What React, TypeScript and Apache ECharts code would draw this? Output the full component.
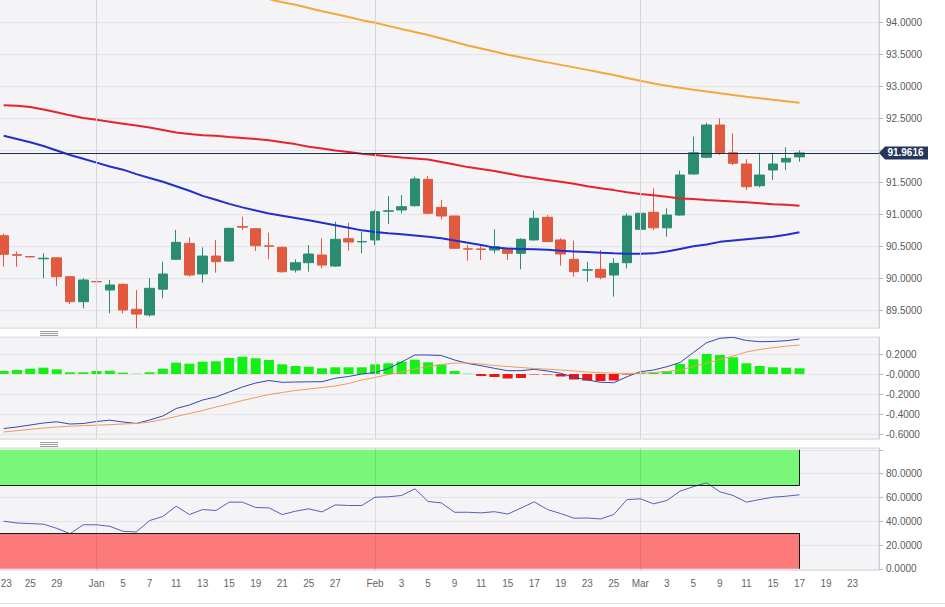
import React, { useEffect, useRef } from 'react';
import * as echarts from 'echarts';

// ---------- data ----------
const dates = [
  '2020-12-23','2020-12-24','2020-12-25','2020-12-28','2020-12-29','2020-12-30','2020-12-31',
  '2021-01-01','2021-01-04','2021-01-05','2021-01-06','2021-01-07','2021-01-08','2021-01-11','2021-01-12','2021-01-13','2021-01-14','2021-01-15','2021-01-18','2021-01-19','2021-01-20','2021-01-21','2021-01-22','2021-01-25','2021-01-26','2021-01-27','2021-01-28','2021-01-29',
  '2021-02-01','2021-02-02','2021-02-03','2021-02-04','2021-02-05','2021-02-08','2021-02-09','2021-02-10','2021-02-11','2021-02-12','2021-02-15','2021-02-16','2021-02-17','2021-02-18','2021-02-19','2021-02-22','2021-02-23','2021-02-24','2021-02-25','2021-02-26',
  '2021-03-01','2021-03-02','2021-03-03','2021-03-04','2021-03-05','2021-03-08','2021-03-09','2021-03-10','2021-03-11','2021-03-12','2021-03-15','2021-03-16','2021-03-17',
  '2021-03-18','2021-03-19','2021-03-22','2021-03-23'
];

const tickDates = [
  '2020-12-23','2020-12-25','2020-12-29','2021-01-01','2021-01-05','2021-01-07','2021-01-11','2021-01-13','2021-01-15','2021-01-19','2021-01-21','2021-01-25','2021-01-27',
  '2021-02-01','2021-02-03','2021-02-05','2021-02-09','2021-02-11','2021-02-15','2021-02-17','2021-02-19','2021-02-23','2021-02-25',
  '2021-03-01','2021-03-03','2021-03-05','2021-03-09','2021-03-11','2021-03-15','2021-03-17','2021-03-19','2021-03-23'
];
const monthStartDates = ['2021-01-01', '2021-02-01', '2021-03-01'];
const monthNames = ['Jan','Feb','Mar','Apr','May','Jun','Jul','Aug','Sep','Oct','Nov','Dec'];

const open = [90.666,90.37,90.34,90.305,90.32,90.025,89.634,89.95,89.817,89.906,89.515,89.426,89.83,90.297,90.547,90.067,90.348,90.27,90.81,90.776,90.508,90.485,90.13,90.244,90.364,90.192,90.62,90.57,90.6,91.05,91.069,91.136,91.549,91.11,90.975,90.461,90.46,90.443,90.454,90.391,90.6,90.955,90.6,90.297,90.128,90.14,90.051,90.244,90.767,91.033,90.79,90.99,91.632,91.894,92.399,91.965,91.788,91.449,91.695,91.82,91.9];
const close = [90.375,90.36,90.335,90.315,90.025,89.634,89.973,89.945,89.895,89.504,89.44,89.843,90.067,90.563,90.051,90.348,90.26,90.782,90.8,90.51,90.502,90.103,90.244,90.38,90.207,90.61,90.568,90.576,91.042,91.056,91.12,91.554,91.017,90.975,90.469,90.457,90.45,90.495,90.391,90.61,90.939,90.573,90.38,90.103,90.132,90.015,90.234,90.975,91.017,90.79,90.99,91.616,91.965,92.399,91.965,91.8,91.433,91.616,91.788,91.877,91.9616];
const low = [90.181,90.18,90.33,90.0,89.88,89.598,89.53,89.94,89.452,89.45,89.217,89.4,89.687,90.29,90.025,89.93,90.088,90.26,90.756,90.427,90.297,90.09,90.09,90.103,90.155,90.18,90.432,90.391,90.52,90.85,91.017,91.12,91.0,90.923,90.46,90.275,90.286,90.391,90.286,90.14,90.59,90.565,90.197,90.025,89.947,89.984,89.712,90.155,90.76,90.756,90.65,90.98,91.62,91.877,91.93,91.773,91.382,91.424,91.538,91.695,91.825];
const high = [90.7,90.42,90.345,90.39,90.33,90.03,90.0,89.955,89.973,89.92,89.817,90.0,90.26,90.756,90.641,90.485,90.6,90.79,90.964,90.78,90.714,90.49,90.297,90.52,90.626,90.886,90.87,90.729,91.069,91.288,91.303,91.59,91.6,91.225,90.98,90.52,90.52,90.766,90.48,90.626,91.058,90.99,90.626,90.59,90.26,90.443,90.313,91.017,91.163,91.408,91.095,91.684,92.216,92.435,92.504,92.269,91.862,91.965,91.965,92.05,92.0];

const ma55 = [92.23,92.18,92.13,92.07,92.0,91.93,91.87,91.81,91.75,91.7,91.63,91.57,91.51,91.44,91.37,91.29,91.23,91.165,91.11,91.06,91.015,90.98,90.945,90.91,90.87,90.83,90.79,90.75,90.725,90.705,90.69,90.67,90.65,90.625,90.59,90.555,90.52,90.48,90.465,90.46,90.455,90.445,90.43,90.42,90.41,90.4,90.39,90.385,90.385,90.39,90.42,90.46,90.5,90.53,90.57,90.59,90.61,90.63,90.65,90.68,90.72];
const ma100 = [92.71,92.7,92.68,92.64,92.6,92.55,92.51,92.48,92.45,92.42,92.39,92.36,92.32,92.28,92.26,92.24,92.23,92.21,92.195,92.18,92.16,92.13,92.1,92.06,92.03,92.0,91.975,91.95,91.93,91.91,91.89,91.875,91.86,91.82,91.78,91.74,91.71,91.68,91.64,91.6,91.57,91.54,91.51,91.48,91.44,91.41,91.38,91.345,91.32,91.3,91.275,91.25,91.24,91.225,91.214,91.2,91.19,91.175,91.16,91.15,91.135];
const ma200 = [null,null,null,null,null,null,null,null,null,null,null,null,null,null,null,null,null,null,null,94.42,94.37,94.32,94.28,94.23,94.18,94.136,94.09,94.04,94.0,93.95,93.9,93.855,93.807,93.753,93.698,93.643,93.596,93.549,93.5,93.458,93.418,93.379,93.34,93.301,93.262,93.222,93.18,93.134,93.09,93.05,93.015,92.983,92.952,92.923,92.895,92.868,92.842,92.817,92.793,92.77,92.748];

const macdLine = [-0.545,-0.53,-0.51,-0.49,-0.478,-0.5,-0.495,-0.475,-0.462,-0.48,-0.495,-0.46,-0.42,-0.345,-0.31,-0.26,-0.23,-0.18,-0.13,-0.09,-0.065,-0.083,-0.08,-0.078,-0.077,-0.042,-0.025,0.0,0.015,0.055,0.12,0.19,0.19,0.185,0.14,0.105,0.083,0.057,0.033,0.033,0.047,0.03,0.007,-0.033,-0.06,-0.083,-0.087,-0.027,0.023,0.04,0.073,0.115,0.215,0.313,0.357,0.367,0.335,0.323,0.325,0.333,0.35];
const signalLine = [-0.58,-0.567,-0.553,-0.54,-0.53,-0.522,-0.517,-0.512,-0.507,-0.5,-0.495,-0.48,-0.455,-0.425,-0.395,-0.365,-0.33,-0.3,-0.265,-0.235,-0.205,-0.185,-0.165,-0.15,-0.135,-0.12,-0.095,-0.06,-0.035,-0.005,0.02,0.05,0.075,0.095,0.11,0.11,0.1,0.085,0.075,0.065,0.055,0.048,0.04,0.03,0.02,0.013,0.008,0.006,0.008,0.015,0.025,0.04,0.075,0.11,0.145,0.18,0.22,0.245,0.263,0.278,0.29];
const macdHist = [0.03,0.04,0.053,0.063,0.047,0.017,0.017,0.03,0.033,0.013,0.003,0.017,0.053,0.113,0.103,0.123,0.127,0.16,0.173,0.157,0.14,0.097,0.08,0.073,0.057,0.067,0.067,0.067,0.097,0.107,0.123,0.143,0.117,0.093,0.03,0.003,-0.02,-0.03,-0.045,-0.04,-0.005,-0.005,-0.025,-0.055,-0.065,-0.07,-0.065,-0.005,0.013,0.015,0.03,0.1,0.147,0.2,0.19,0.167,0.107,0.08,0.067,0.063,0.057];

const rsi = [40,38.5,38,37.5,34,29.5,37,37,35.7,31.5,31,40.5,44,52.6,45.6,49.8,49,56,56,51.5,51.2,45.6,48.4,50.4,47.8,53.7,53.2,53.2,60.2,60.5,61.6,67.2,56.5,55.4,47.5,47.5,47,48,46,51,56.3,49.8,46.4,42.5,42.7,41.9,45.6,58.2,58.8,54.6,57.4,65.3,69,72.3,64.7,61.6,56,58.2,60.2,61,62.2];
const rsiOverbought = [70, 100];
const rsiOversold = [0, 30];

const lastPrice = 91.9616;

// ---------- layout constants ----------
const X_MIN = -0.354;
const X_MAX = 65.996;
const FONT = 'Arial, "Liberation Sans", Helvetica, sans-serif';

const GRID_BG = '#f4f4f6';
const GRID_BORDER = '#dcdde3';
const SPLIT = '#e3e3e8';
const AXIS_LINE = '#c9cfdc';

export default function App() {
  const ref = useRef<HTMLDivElement>(null);

  useEffect(() => {
    if (!ref.current) return;
    const chart = echarts.init(ref.current, null, { renderer: 'svg' });

    const lastIdx = close.length - 1;
    const tickIdx = tickDates.map((d) => dates.indexOf(d));
    const tickText: Record<number, string> = {};
    tickDates.forEach((d, k) => {
      const [, m, day] = d.split('-');
      tickText[tickIdx[k]] = day === '01' ? monthNames[parseInt(m, 10) - 1] : String(parseInt(day, 10));
    });
    const monthIdx = monthStartDates.map((d) => dates.indexOf(d));

    const candleData = open.map((o, i) => [i, o, close[i], low[i], high[i]]);
    const toXY = (arr: (number | null)[]) =>
      arr.map((v, i) => (v == null ? null : [i, v])).filter((p) => p != null);

    const monthMarkLine = () => ({
      silent: true,
      symbol: ['none', 'none'],
      label: { show: false },
      lineStyle: { color: '#d4d4da', width: 1, type: 'solid' },
      emphasis: { disabled: true },
      data: monthIdx.map((i) => ({ xAxis: i })),
    });

    const yAxisBase = (gridIndex: number) => ({
      type: 'value',
      gridIndex,
      position: 'right',
      scale: true,
      axisLine: { show: true, onZero: false, lineStyle: { color: AXIS_LINE } },
      axisTick: { show: true, length: 4, lineStyle: { color: '#b5b5bb' } },
      splitLine: { show: true, lineStyle: { color: SPLIT, width: 1 } },
      axisLabel: {
        show: true,
        color: '#5a5a5a',
        fontSize: 10,
        fontFamily: FONT,
        margin: 7,
        showMinLabel: false,
        showMaxLabel: false,
      },
    });

    const xAxisBase = (gridIndex: number) => ({
      type: 'value',
      gridIndex,
      min: X_MIN,
      max: X_MAX,
      axisLine: { show: false, onZero: false },
      axisTick: { show: false },
      splitLine: { show: false },
      axisLabel: { show: false },
    });

    const gridBase = {
      left: -1,
      right: 66,
      show: true,
      containLabel: false,
      outerBoundsMode: 'none',
      backgroundColor: GRID_BG,
      borderColor: GRID_BORDER,
      borderWidth: 1,
    };

    const option: any = {
      animation: false,
      textStyle: { fontFamily: FONT },
      grid: [
        { ...gridBase, top: -1, height: 329 },
        { ...gridBase, top: 337, height: 102 },
        { ...gridBase, top: 448, height: 122 },
      ],
      xAxis: [
        xAxisBase(0),
        xAxisBase(1),
        {
          ...xAxisBase(2),
          axisLabel: {
            show: true,
            customValues: tickIdx,
            formatter: (v: number) => {
              const i = Math.round(v);
              const t = tickText[i] ?? '';
              return i === tickIdx[0] ? `{edge|${t}}` : t;
            },
            rich: {
              edge: { padding: [0, 0, 0, 5], fontSize: 10, color: '#666', fontFamily: FONT },
            },
            color: '#666',
            fontSize: 10,
            fontFamily: FONT,
            margin: 8,
          },
        },
      ],
      yAxis: [
        {
          ...yAxisBase(0),
          min: 89.222,
          max: 94.371,
          splitNumber: 10,
          minInterval: 0.5,
          maxInterval: 0.5,
          axisLabel: {
            ...yAxisBase(0).axisLabel,
            formatter: (v: number) => (Math.abs(v - 92) < 1e-6 ? '' : v.toFixed(4)),
          },
        },
        {
          ...yAxisBase(1),
          min: -0.65,
          max: 0.37,
          splitNumber: 5,
          minInterval: 0.2,
          maxInterval: 0.2,
          axisLabel: {
            ...yAxisBase(1).axisLabel,
            formatter: (v: number) => (Math.abs(v) < 1e-9 ? '-0.0000' : v.toFixed(4)),
          },
        },
        {
          ...yAxisBase(2),
          min: -1,
          max: 101.5,
          splitNumber: 5,
          minInterval: 20,
          maxInterval: 20,
          axisLabel: {
            ...yAxisBase(2).axisLabel,
            formatter: (v: number) => (v > 99 || v < -0.5 ? '' : v.toFixed(4)),
          },
        },
      ],
      series: [
        {
          type: 'candlestick',
          xAxisIndex: 0,
          yAxisIndex: 0,
          data: candleData,
          barWidth: 10,
          itemStyle: {
            color: '#2a8c70',
            color0: '#e15a40',
            borderColor: '#2a8c70',
            borderColor0: '#e15a40',
            borderWidth: 1,
          },
          markLine: monthMarkLine(),
          z: 2,
        },
        {
          type: 'line',
          xAxisIndex: 0,
          yAxisIndex: 0,
          data: toXY(ma200),
          symbol: 'none',
          lineStyle: { color: '#f6a63a', width: 2 },
          z: 3,
        },
        {
          type: 'line',
          xAxisIndex: 0,
          yAxisIndex: 0,
          data: toXY(ma100),
          symbol: 'none',
          lineStyle: { color: '#e8222b', width: 2 },
          z: 3,
        },
        {
          type: 'line',
          xAxisIndex: 0,
          yAxisIndex: 0,
          data: toXY(ma55),
          symbol: 'none',
          lineStyle: { color: '#2030cc', width: 2 },
          z: 3,
        },
        {
          type: 'line',
          xAxisIndex: 0,
          yAxisIndex: 0,
          data: [[lastIdx, lastPrice]],
          symbol: 'none',
          lineStyle: { width: 0 },
          z: 4,
          markLine: {
            silent: true,
            symbol: ['none', 'none'],
            label: { show: false },
            lineStyle: { color: '#1b2e52', width: 1, type: 'solid' },
            emphasis: { disabled: true },
            data: [{ yAxis: lastPrice }],
          },
          markPoint: {
            silent: true,
            symbol: 'path://M0,6L6,0L49,0L49,12L6,12Z',
            symbolSize: [49, 13],
            symbolKeepAspect: false,
            symbolOffset: [24.5, 0],
            itemStyle: { color: '#24375a' },
            label: {
              show: true,
              position: 'inside',
              offset: [2, 0],
              color: '#ffffff',
              fontWeight: 'bold',
              fontSize: 10,
              fontFamily: FONT,
              formatter: lastPrice.toFixed(4),
            },
            data: [{ coord: [X_MAX - 0.001, lastPrice] }],
          },
        },
        {
          type: 'bar',
          xAxisIndex: 1,
          yAxisIndex: 1,
          data: macdHist.map((v, i) => [i, v]),
          barWidth: 10,
          itemStyle: {
            color: (p: any) => (p.value[1] >= 0 ? '#14f014' : '#f01414'),
          },
          markLine: monthMarkLine(),
          z: 2,
        },
        {
          type: 'line',
          xAxisIndex: 1,
          yAxisIndex: 1,
          data: macdLine.map((v, i) => [i, v]),
          symbol: 'none',
          lineStyle: { color: '#3446b2', width: 1 },
          z: 3,
        },
        {
          type: 'line',
          xAxisIndex: 1,
          yAxisIndex: 1,
          data: signalLine.map((v, i) => [i, v]),
          symbol: 'none',
          lineStyle: { color: '#f09a5c', width: 1 },
          z: 3,
        },
        {
          type: 'line',
          xAxisIndex: 2,
          yAxisIndex: 2,
          data: rsi.map((v, i) => [i, v]),
          symbol: 'none',
          lineStyle: { color: '#5560b8', width: 1 },
          z: 3,
          markArea: {
            silent: true,
            data: [
              [
                { coord: [X_MIN, rsiOverbought[0]], itemStyle: { color: '#78f778', opacity: 1 } },
                { coord: [lastIdx, rsiOverbought[1]] },
              ],
              [
                { coord: [X_MIN, rsiOversold[0]], itemStyle: { color: '#fd7a7a', opacity: 1 } },
                { coord: [lastIdx, rsiOversold[1]] },
              ],
            ],
          },
          markLine: {
            silent: true,
            symbol: ['none', 'none'],
            label: { show: false },
            emphasis: { disabled: true },
            data: [
              ...monthIdx.map((i) => ({
                xAxis: i,
                lineStyle: { color: 'rgba(0,0,0,0.09)', width: 1, type: 'solid' },
              })),
              [
                { coord: [X_MIN, rsiOverbought[0]], lineStyle: { color: '#1a1a1a', width: 1, type: 'solid' } },
                { coord: [lastIdx, rsiOverbought[0]] },
              ],
              [
                { coord: [X_MIN, rsiOversold[1]], lineStyle: { color: '#1a1a1a', width: 1, type: 'solid' } },
                { coord: [lastIdx, rsiOversold[1]] },
              ],
              [
                { coord: [lastIdx, rsiOverbought[0]], lineStyle: { color: '#1a1a1a', width: 1, type: 'solid' } },
                { coord: [lastIdx, rsiOverbought[1]] },
              ],
              [
                { coord: [lastIdx, rsiOversold[0]], lineStyle: { color: '#1a1a1a', width: 1, type: 'solid' } },
                { coord: [lastIdx, rsiOversold[1]] },
              ],
            ],
          },
        },
      ],
      graphic: [
        { type: 'line', silent: true, shape: { x1: 40, y1: 331.5, x2: 58, y2: 331.5 }, style: { stroke: '#999', lineWidth: 1 } },
        { type: 'line', silent: true, shape: { x1: 40, y1: 333.5, x2: 58, y2: 333.5 }, style: { stroke: '#999', lineWidth: 1 } },
        { type: 'line', silent: true, shape: { x1: 40, y1: 335.5, x2: 58, y2: 335.5 }, style: { stroke: '#999', lineWidth: 1 } },
        { type: 'line', silent: true, shape: { x1: 40, y1: 442.5, x2: 58, y2: 442.5 }, style: { stroke: '#999', lineWidth: 1 } },
        { type: 'line', silent: true, shape: { x1: 40, y1: 444.5, x2: 58, y2: 444.5 }, style: { stroke: '#999', lineWidth: 1 } },
        { type: 'line', silent: true, shape: { x1: 40, y1: 446.5, x2: 58, y2: 446.5 }, style: { stroke: '#999', lineWidth: 1 } },
        { type: 'line', silent: true, shape: { x1: 0, y1: 603.5, x2: 945, y2: 603.5 }, style: { stroke: '#e2e2e2', lineWidth: 1 } },
      ],
    };

    chart.setOption(option);
    return () => chart.dispose();
  }, []);

  return (
    <div
      ref={ref}
      style={{ position: 'fixed', left: 0, top: 0, width: 945, height: 607, background: '#ffffff' }}
    />
  );
}
